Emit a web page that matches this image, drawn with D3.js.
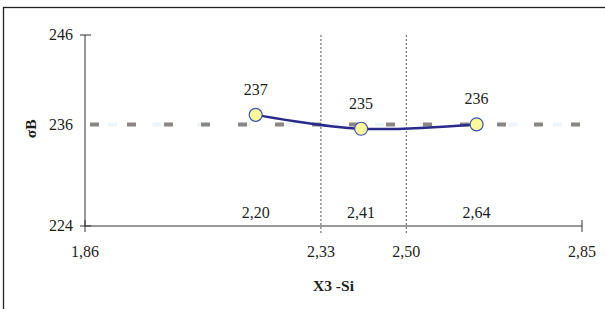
<!DOCTYPE html>
<html>
<head>
<meta charset="utf-8">
<script src="https://cdn.jsdelivr.net/npm/d3@7"></script>
<style>
  body { margin: 0; background: #fff; }
  text { font-family: "Liberation Serif", "Times New Roman", serif; fill: #1e1e1e; }
</style>
</head>
<body>
<div id="chart"></div>
<script>
// data
const xValues = [2.20, 2.41, 2.64]
const yValues = [236.8, 235.2, 235.7]
const pointLabels = ["237", "235", "236"]
const xLabels = ["2,20", "2,41", "2,64"]
const refLine = 235.7
const refLabel = "236"
const limitLines = [2.33, 2.50]
const limitLabels = ["2,33", "2,50"]
const xTicks = [1.86, 2.85]
const xTickLabels = ["1,86", "2,85"]
const yTicks = [224, 246]

const width = 605
const height = 309
const fs = "16px"

const svg = d3
  .select("#chart")
  .append("svg")
  .attr("width", width)
  .attr("height", height)

// outer frame (cut at the right and bottom edges)
svg
  .append("rect")
  .attr("x", 3.5)
  .attr("y", 7.5)
  .attr("width", 620)
  .attr("height", 320)
  .attr("fill", "none")
  .attr("stroke", "#222")
  .attr("stroke-width", 1.3)

const x = d3.scaleLinear().domain([1.86, 2.85]).range([85, 582])
const y = d3.scaleLinear().domain([224, 246]).range([226, 35])

// reference line: gray dashes plus faint light-blue dashes
svg
  .append("line")
  .attr("x1", x(1.86))
  .attr("x2", x(2.85))
  .attr("y1", y(refLine))
  .attr("y2", y(refLine))
  .attr("stroke", "#eef5fa")
  .attr("stroke-width", 4)
  .attr("stroke-dasharray", "9,35.5")
  .attr("stroke-dashoffset", -23)

svg
  .append("line")
  .attr("x1", x(1.86))
  .attr("x2", x(2.85))
  .attr("y1", y(refLine))
  .attr("y2", y(refLine))
  .attr("stroke", "#8a8683")
  .attr("stroke-width", 4)
  .attr("stroke-dasharray", "9,28")
  .attr("stroke-dashoffset", -5)

// dotted limit lines
svg
  .selectAll(".limit")
  .data(limitLines)
  .join("line")
  .attr("class", "limit")
  .attr("x1", (d) => x(d))
  .attr("x2", (d) => x(d))
  .attr("y1", y(246))
  .attr("y2", y(224) + 7)
  .attr("stroke", "#555")
  .attr("stroke-width", 1)
  .attr("stroke-dasharray", "2,2")

// axes
svg
  .append("line")
  .attr("x1", x(1.86))
  .attr("x2", x(1.86))
  .attr("y1", y(246))
  .attr("y2", y(224))
  .attr("stroke", "#333")
svg
  .append("line")
  .attr("x1", x(1.86))
  .attr("x2", x(2.85))
  .attr("y1", y(224))
  .attr("y2", y(224))
  .attr("stroke", "#333")

svg
  .selectAll(".ytick")
  .data(yTicks)
  .join("line")
  .attr("class", "ytick")
  .attr("x1", x(1.86) - 5)
  .attr("x2", x(1.86) + 6)
  .attr("y1", (d) => y(d))
  .attr("y2", (d) => y(d))
  .attr("stroke", "#333")

svg
  .selectAll(".xtick")
  .data(xTicks)
  .join("line")
  .attr("class", "xtick")
  .attr("x1", (d) => x(d))
  .attr("x2", (d) => x(d))
  .attr("y1", y(224) - 6)
  .attr("y2", y(224) + 6)
  .attr("stroke", "#333")

// y labels
svg
  .selectAll(".ylab")
  .data(yTicks.map((d) => [d, String(d)]).concat([[refLine, refLabel]]))
  .join("text")
  .attr("class", "ylab")
  .attr("x", x(1.86) - 12)
  .attr("y", (d) => y(d[0]))
  .attr("dy", "0.33em")
  .attr("text-anchor", "end")
  .style("font-size", fs)
  .text((d) => d[1])

// x labels
svg
  .selectAll(".xlab")
  .data(xTicks.map((d, i) => [d, xTickLabels[i]]).concat(limitLines.map((d, i) => [d, limitLabels[i]])))
  .join("text")
  .attr("class", "xlab")
  .attr("x", (d) => x(d[0]))
  .attr("y", 257)
  .attr("text-anchor", "middle")
  .style("font-size", fs)
  .text((d) => d[1])

// axis titles
svg
  .append("text")
  .attr("x", (x(1.86) + x(2.85)) / 2)
  .attr("y", 291)
  .attr("text-anchor", "middle")
  .style("font-size", "15.5px")
  .style("font-weight", "bold")
  .text("X3 -Si")

svg
  .append("text")
  .attr("transform", `translate(36,${y(235.2)}) rotate(-90)`)
  .attr("text-anchor", "middle")
  .style("font-size", "15.5px")
  .style("font-weight", "bold")
  .text("σB")

// smoothed series line
const pts = xValues.map((d, i) => [d, yValues[i]])
svg
  .append("path")
  .datum(pts)
  .attr("fill", "none")
  .attr("stroke", "#2a2a8c")
  .attr("stroke-width", 2.5)
  .attr(
    "d",
    d3
      .line()
      .x((d) => x(d[0]))
      .y((d) => y(d[1]))
      .curve(d3.curveCardinal.tension(0))
  )

svg
  .selectAll(".pt")
  .data(pts)
  .join("circle")
  .attr("class", "pt")
  .attr("cx", (d) => x(d[0]))
  .attr("cy", (d) => y(d[1]))
  .attr("r", 6.5)
  .attr("fill", "#fafa9c")
  .attr("stroke", "#3a55b0")
  .attr("stroke-width", 1.2)

// value labels above points
svg
  .selectAll(".plab")
  .data(pts)
  .join("text")
  .attr("class", "plab")
  .attr("x", (d) => x(d[0]))
  .attr("y", (d) => y(d[1]) - 20)
  .attr("text-anchor", "middle")
  .style("font-size", fs)
  .text((d, i) => pointLabels[i])

// x values near the axis
svg
  .selectAll(".vlab")
  .data(xValues)
  .join("text")
  .attr("class", "vlab")
  .attr("x", (d) => x(d))
  .attr("y", 218)
  .attr("text-anchor", "middle")
  .style("font-size", fs)
  .text((d, i) => xLabels[i])
</script>
</body>
</html>
